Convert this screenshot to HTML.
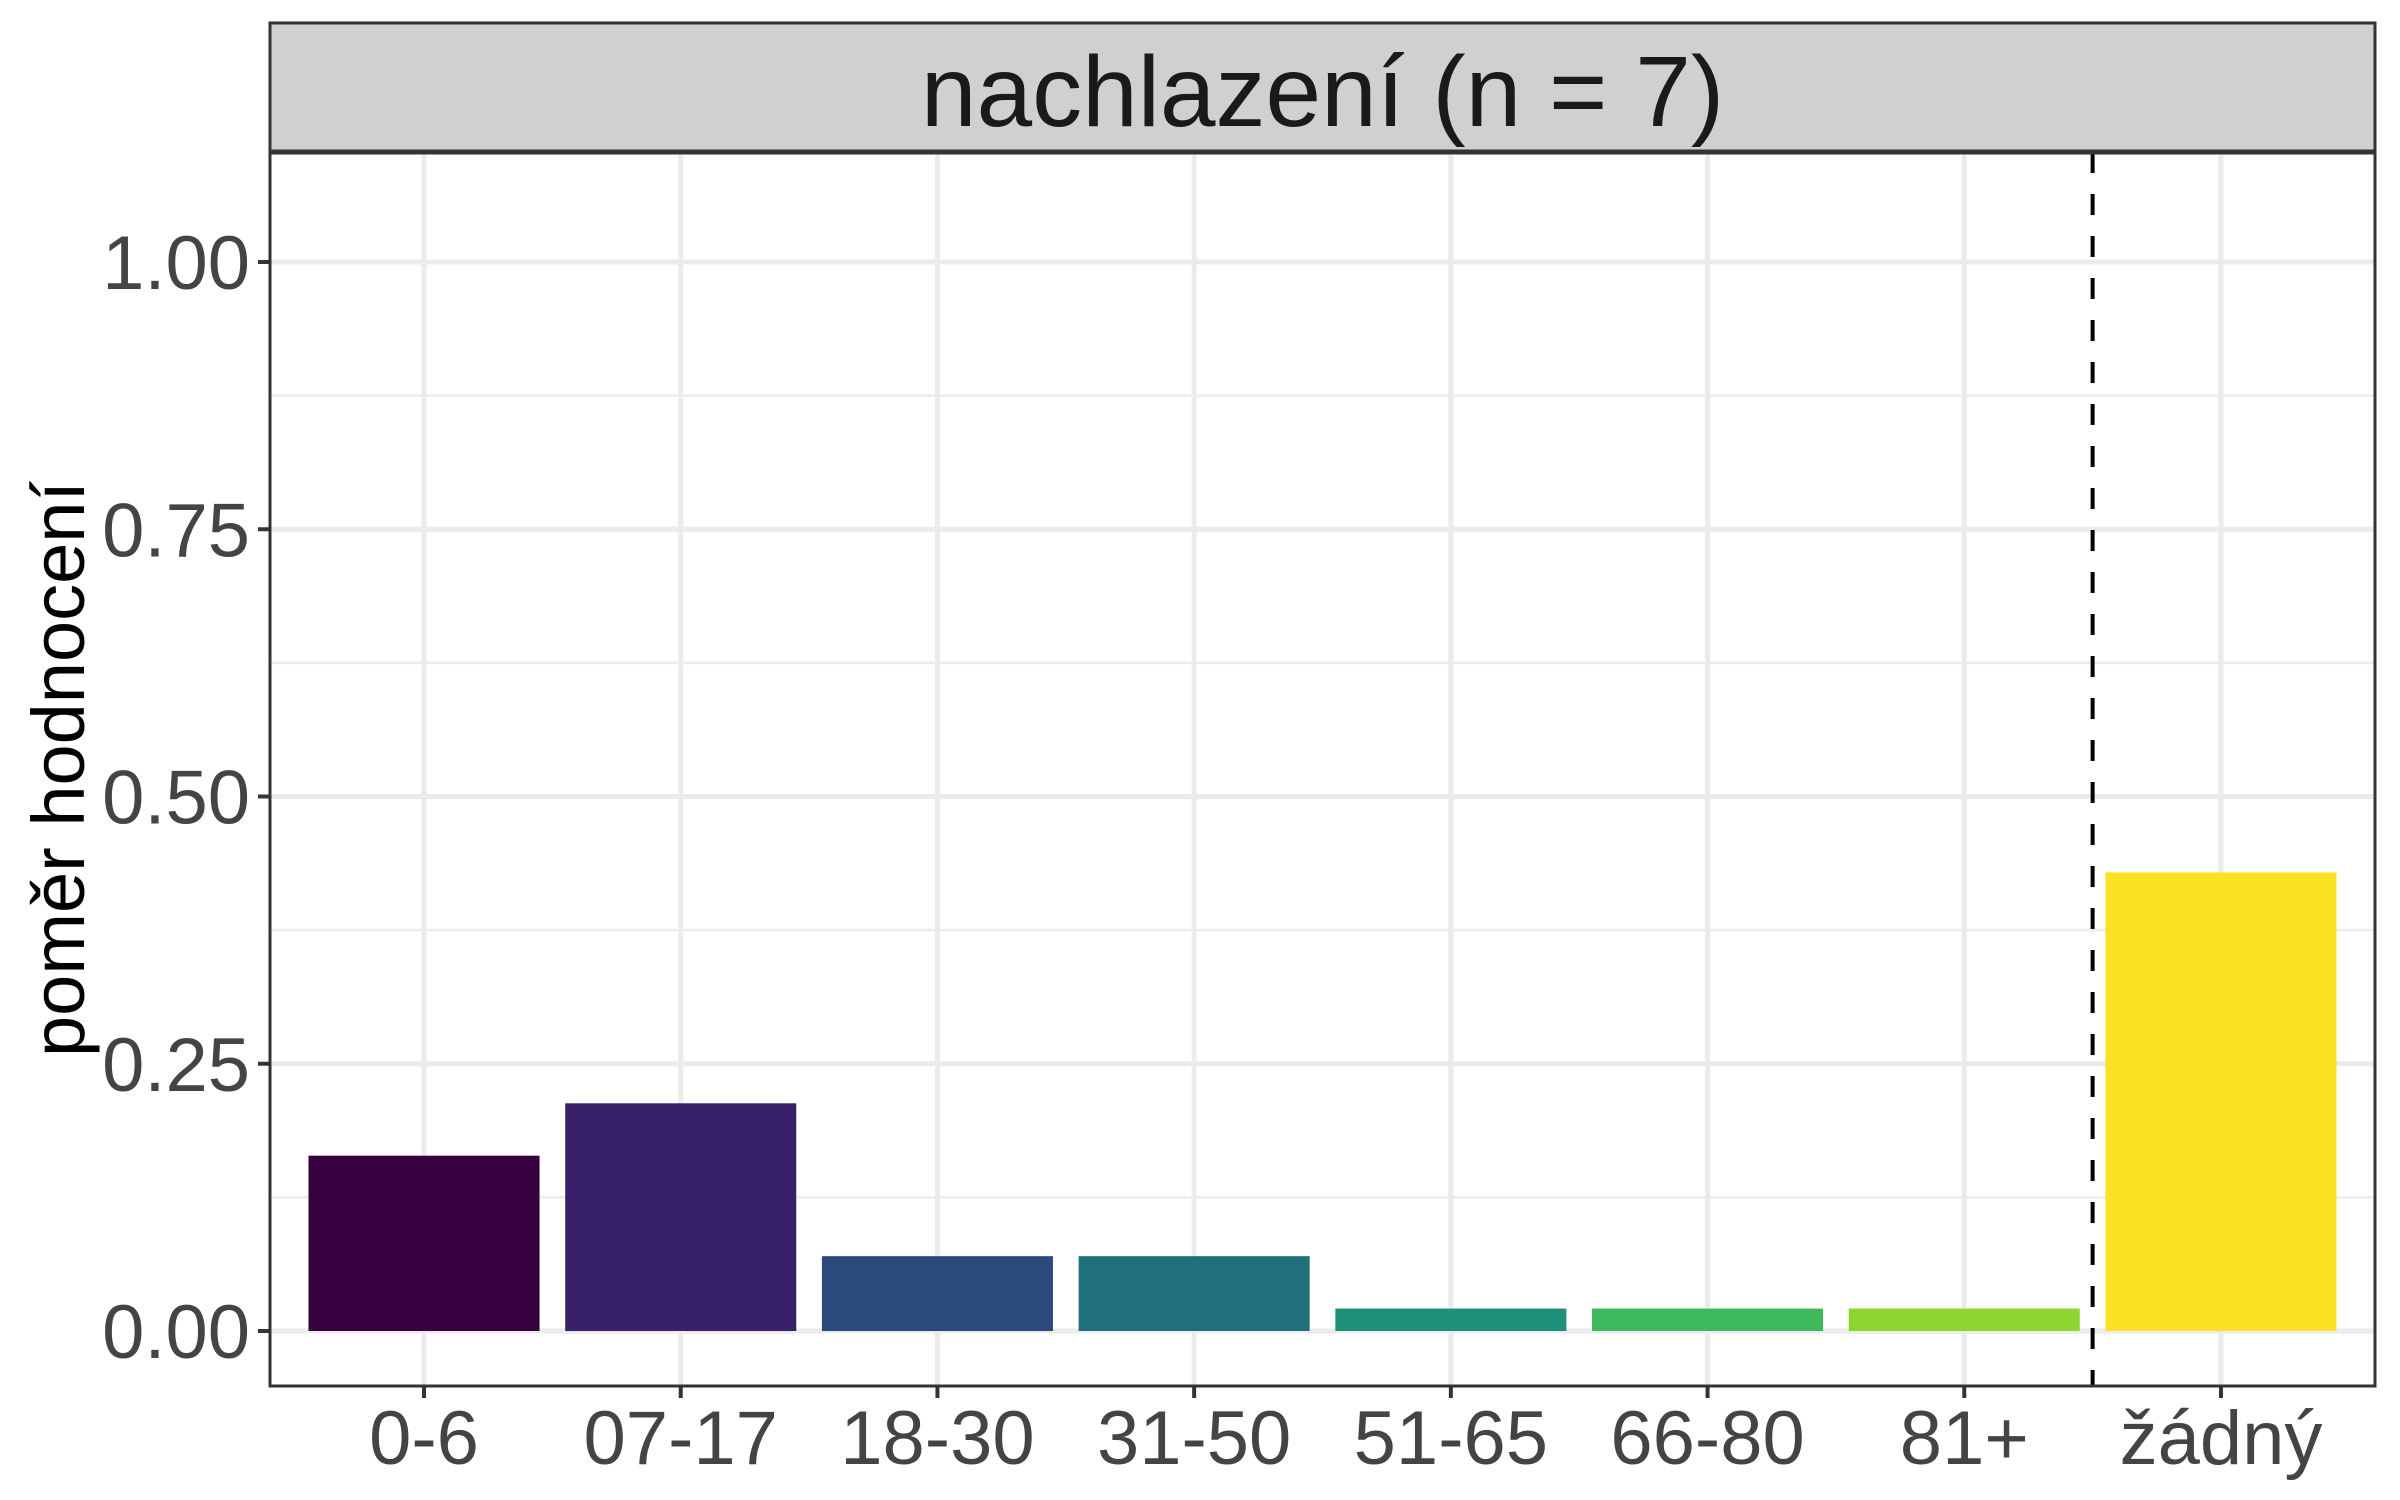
<!DOCTYPE html>
<html><head><meta charset="utf-8">
<style>
body{margin:0;background:#fff;}
svg{display:block;font-family:"Liberation Sans",Arial,sans-serif;}
</style></head>
<body>
<svg id="chart" width="2400" height="1500" viewBox="0 0 2400 1500">
<g id="grid"></g>
<g id="bars"></g>
<g id="axes"></g>
</svg>
<script>
const categories = ["0-6","07-17","18-30","31-50","51-65","66-80","81+","žádný"];
const values = [0.164, 0.213, 0.07, 0.07, 0.021, 0.021, 0.021, 0.429];
const colors = ["#37003e","#382169","#2b4a7b","#1f707b","#1e8f78","#3db85a","#8ed62f","#fbe321"];
const yTicks = [0, 0.25, 0.5, 0.75, 1.0];
const yTickLabels = ["0.00","0.25","0.50","0.75","1.00"];

const NS = "http://www.w3.org/2000/svg";
const PL = 270, PR = 2375, PT = 152, PB = 1386;
const unit = (PR - PL) / (categories.length + 0.2);
function xScale(i){ return PL + (i + 0.6) * unit; }
const y0 = 1331, y1 = 262;
function yScale(v){ return y0 - v * (y0 - y1); }

function mk(tag, attrs, parent){
  const e = document.createElementNS(NS, tag);
  for (const k in attrs) e.setAttribute(k, attrs[k]);
  parent.appendChild(e);
  return e;
}
const grid = document.getElementById("grid");
const bars = document.getElementById("bars");
const axes = document.getElementById("axes");

mk("rect",{x:PL,y:PT,width:PR-PL,height:PB-PT,fill:"#fff"},grid);
for (let k = 0; k < yTicks.length - 1; k++) {
  const v = (yTicks[k] + yTicks[k+1]) / 2;
  const l = mk("line",{x1:PL,x2:PR,y1:yScale(v),y2:yScale(v),stroke:"#ebebeb","stroke-width":2.5},grid);
  
  
}
yTicks.forEach((v, k) => {
  const l = mk("line",{x1:PL,x2:PR,y1:yScale(v),y2:yScale(v),stroke:"#ebebeb","stroke-width":5},grid);
  
  
  const t = mk("line",{x1:PL-12,x2:PL,y1:yScale(v),y2:yScale(v),stroke:"#333","stroke-width":4},axes);
  
  
  const tx = mk("text",{x:PL-20,y:yScale(v)+27,"text-anchor":"end","font-size":76,fill:"#444"},axes);
  tx.textContent = yTickLabels[k];
  
  
});
categories.forEach((c, i) => {
  const x = xScale(i);
  const l = mk("line",{x1:x,x2:x,y1:PT,y2:PB,stroke:"#ebebeb","stroke-width":5},grid);
  
  
  const bw = unit * 0.9;
  const r = mk("rect",{x:x-bw/2,y:yScale(values[i]),width:bw,height:yScale(0)-yScale(values[i]),fill:colors[i]},bars);
  
  
  const t = mk("line",{x1:x,x2:x,y1:PB,y2:PB+12,stroke:"#333","stroke-width":4},axes);
  
  
  const tx = mk("text",{x:x,y:1464,"text-anchor":"middle","font-size":76,fill:"#444"},axes);
  tx.textContent = c;
  
  
});
const sx = (xScale(6) + xScale(7)) / 2;
const d = mk("line",{x1:sx,x2:sx,y1:PT,y2:PB,stroke:"#000","stroke-width":4,"stroke-dasharray":"21 21"},axes);


const b = mk("rect",{x:PL,y:PT,width:PR-PL,height:PB-PT,fill:"none",stroke:"#333","stroke-width":3},axes);


const s = mk("rect",{x:PL,y:23,width:PR-PL,height:PT-23,fill:"#d0d0d0",stroke:"#333","stroke-width":3},axes);


const sl = mk("line",{x1:PL,x2:PR,y1:PT,y2:PT,stroke:"#333","stroke-width":5},axes);


const st = mk("text",{x:(PL+PR)/2,y:126,"text-anchor":"middle","font-size":100,fill:"#1a1a1a"},axes);
st.textContent = "nachlazení (n = 7)";


const yt = mk("text",{x:0,y:0,"text-anchor":"middle","font-size":74,fill:"#000",transform:"translate(84," + ((PT+PB)/2) + ") rotate(-90)"},axes);
yt.textContent = "poměr hodnocení";


</script>
</body></html>
